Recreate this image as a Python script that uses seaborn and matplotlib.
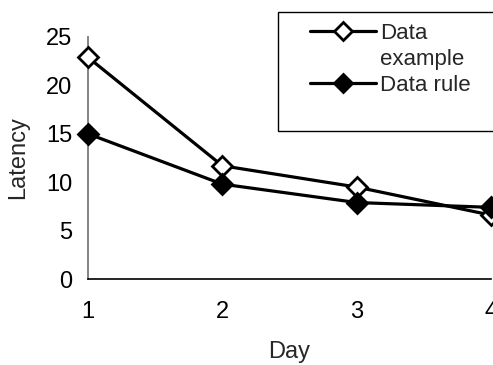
import matplotlib
matplotlib.use("Agg")
import matplotlib.pyplot as plt
import seaborn as sns
import pandas as pd
from matplotlib.patches import Rectangle
from matplotlib.lines import Line2D

days = [1, 2, 3, 4]
data_example = [22.9, 11.7, 9.5, 6.6]
data_rule = [15.0, 9.8, 7.9, 7.4]
series_names = ["Data example", "Data rule"]

sns.set_style("white")
plt.rcParams["font.family"] = ["Liberation Sans", "DejaVu Sans"]

df = pd.DataFrame({
    "Day": days * 2,
    "Latency": data_example + data_rule,
    "series": [series_names[0]] * 4 + [series_names[1]] * 4,
})

fig = plt.figure(figsize=(4.93, 3.65), dpi=100)
ax = fig.add_axes([88 / 493, 1 - 279 / 365, (491 - 88) / 493, (279 - 37) / 365])

faces = {series_names[0]: "white", series_names[1]: "black"}
for name, face in faces.items():
    sns.lineplot(data=df[df["series"] == name], x="Day", y="Latency", ax=ax,
                 color="black", linewidth=2.3, marker="D", markersize=10,
                 markerfacecolor=face, markeredgecolor="black",
                 markeredgewidth=2.0, clip_on=False, zorder=3, legend=False)

ax.set_xlim(1, 4)
ax.set_ylim(0, 25)
ax.set_xticks(days)
ax.set_yticks([0, 5, 10, 15, 20, 25])
for s in ["top", "right"]:
    ax.spines[s].set_visible(False)
ax.spines["left"].set_color("#7a7a7a")
ax.spines["left"].set_linewidth(1.3)
ax.spines["bottom"].set_color("black")
ax.spines["bottom"].set_linewidth(1.2)
ax.tick_params(axis="both", direction="inout", length=11, width=1.0,
               labelsize=17, colors="black")
ax.tick_params(axis="x", pad=10)
ax.tick_params(axis="y", pad=6)
ax.set_xlabel("Day", fontsize=17, labelpad=13)
ax.set_ylabel("Latency", fontsize=17, labelpad=12)

# Legend: frame drawn as its own box, label of first series spread over two rows
fig.patches.append(Rectangle((278 / 493, 1 - 131 / 365), 0.6, (131 - 12) / 365,
                             transform=fig.transFigure, facecolor="white",
                             edgecolor="black", linewidth=1.0, zorder=5))

def handle(face):
    return Line2D([], [], color="black", linewidth=2.3, marker="D", markersize=9,
                  markerfacecolor=face, markeredgecolor="black", markeredgewidth=2.0)

first, second = series_names[0].split(" ", 1)
handles = [handle("white"), Line2D([], [], alpha=0), handle("black")]
labels = [first, second, series_names[1]]
fig.legend(handles, labels, loc="upper left",
           bbox_to_anchor=(310 / 493, 1 - 23 / 365), frameon=False,
           fontsize=16, handlelength=2.95, handletextpad=0.22,
           labelspacing=0.22, borderpad=0.0, borderaxespad=0.0)

fig.savefig("out.png", dpi=100)
